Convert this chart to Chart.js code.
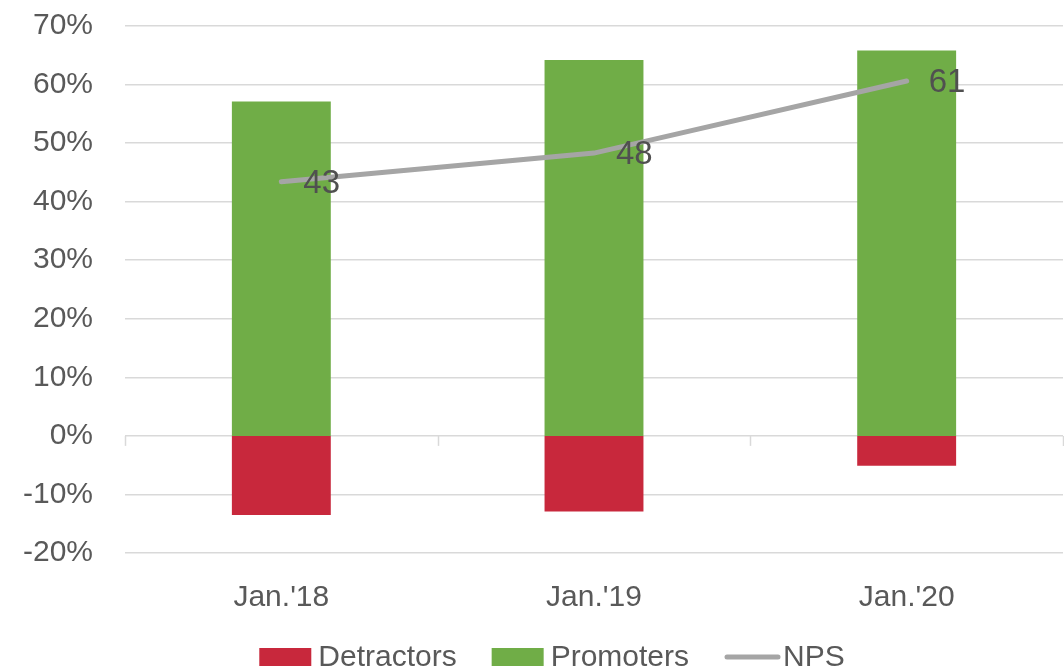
<!DOCTYPE html>
<html>
<head>
<meta charset="utf-8">
<script src="https://cdn.jsdelivr.net/npm/chart.js@4"></script>
<style>
html,body{margin:0;padding:0;background:#fff;}
#wrap{width:1064px;height:672px;position:relative;}
</style>
</head>
<body>
<div id="wrap"><canvas id="c" width="1064" height="672"></canvas></div>
<script>
// ---- data ----
const categories = ["Jan.'18", "Jan.'19", "Jan.'20"];
const detractors = [-0.135, -0.129, -0.051];
const promoters = [0.571, 0.642, 0.658];
const nps = [0.434, 0.483, 0.606];
const npsLabels = ["43", "48", "61"];
const yTickMin = -0.2, yTickMax = 0.7, yTickStep = 0.1;

const FONT = "'Liberation Sans', Arial, sans-serif";
const TEXT = '#595959';
const RED = '#C8283C', GREEN = '#70AD47', GREY = '#A5A5A5', GRID = '#D9D9D9';

const npsLabelPlugin = {
  id: 'npsLabels',
  afterDatasetsDraw(chart) {
    const ctx = chart.ctx;
    const idx = chart.data.datasets.findIndex(d => d.type === 'line');
    const meta = chart.getDatasetMeta(idx);
    ctx.save();
    ctx.font = '33px ' + FONT;
    ctx.fillStyle = '#505050';
    ctx.textAlign = 'left';
    ctx.textBaseline = 'middle';
    meta.data.forEach((pt, i) => {
      ctx.fillText(npsLabels[i], pt.x + 22, pt.y + 2);
    });
    ctx.restore();
  }
};

const zeroTicksPlugin = {
  id: 'zeroTicks',
  beforeDatasetsDraw(chart) {
    const ctx = chart.ctx, x = chart.scales.x, y = chart.scales.y;
    const y0 = y.getPixelForValue(0);
    const n = categories.length;
    ctx.save();
    ctx.strokeStyle = GRID;
    ctx.lineWidth = 1.5;
    for (let i = 0; i <= n; i++) {
      const px = Math.round(x.left + (x.right - x.left) * i / n) + 0.5;
      ctx.beginPath();
      ctx.moveTo(px, y0);
      ctx.lineTo(px, y0 + 10);
      ctx.stroke();
    }
    ctx.restore();
  }
};

const legendPlugin = {
  id: 'customLegend',
  afterDraw(chart) {
    const ctx = chart.ctx;
    ctx.save();
    ctx.font = '30px ' + FONT;
    ctx.textBaseline = 'middle';
    ctx.textAlign = 'left';
    const cy = 657;
    const items = [
      {label: chart.data.datasets[0].label, color: chart.data.datasets[0].backgroundColor, kind: 'box'},
      {label: chart.data.datasets[1].label, color: chart.data.datasets[1].backgroundColor, kind: 'box'},
      {label: chart.data.datasets[2].label, color: chart.data.datasets[2].borderColor, kind: 'line'}
    ];
    const boxW = 52, gap = 7, itemGap = 35;
    let total = 0;
    items.forEach((it, i) => { total += boxW + gap + ctx.measureText(it.label).width + (i < items.length - 1 ? itemGap : 0); });
    let x = 552 - total / 2;
    items.forEach(it => {
      if (it.kind === 'box') {
        ctx.fillStyle = it.color;
        ctx.fillRect(x, cy - 9, boxW, 18);
      } else {
        ctx.strokeStyle = it.color;
        ctx.lineWidth = 5;
        ctx.lineCap = 'round';
        ctx.beginPath();
        ctx.moveTo(x + 3, cy);
        ctx.lineTo(x + boxW + 2, cy);
        ctx.stroke();
      }
      ctx.fillStyle = TEXT;
      ctx.fillText(it.label, x + boxW + gap, cy + 1);
      x += boxW + gap + ctx.measureText(it.label).width + itemGap;
    });
    ctx.restore();
  }
};

new Chart(document.getElementById('c'), {
  data: {
    labels: categories,
    datasets: [
      {type: 'bar', label: 'Detractors', data: detractors, backgroundColor: RED, stack: 'bars', order: 1,
       barPercentage: 0.95, categoryPercentage: 0.333},
      {type: 'bar', label: 'Promoters', data: promoters, backgroundColor: GREEN, stack: 'bars', order: 1,
       barPercentage: 0.95, categoryPercentage: 0.333},
      {type: 'line', label: 'NPS', data: nps, borderColor: GREY, backgroundColor: GREY, borderWidth: 5,
       pointRadius: 0, pointHoverRadius: 0, stack: 'nps', order: 0, borderCapStyle: 'round', tension: 0}
    ]
  },
  options: {
    responsive: false,
    animation: false,
    devicePixelRatio: 1,
    layout: {padding: {top: 26, right: 1, bottom: 49, left: 0}},
    plugins: {legend: {display: false}, tooltip: {enabled: false}},
    scales: {
      x: {
        stacked: true,
        grid: {display: false, drawTicks: false},
        border: {display: false},
        ticks: {color: TEXT, font: {family: FONT, size: 30}, padding: 27},
        afterFit(s) { s.height = 70; s.paddingLeft = 0; s.paddingRight = 0; }
      },
      y: {
        stacked: true,
        min: yTickMin, max: yTickMax,
        grid: {color: GRID, lineWidth: 1.5, drawTicks: false},
        border: {display: false},
        ticks: {stepSize: yTickStep, color: TEXT, font: {family: FONT, size: 30}, padding: 32,
          callback: v => Math.round(v * 100) + '%'},
        afterFit(s) { s.width = 125; s.paddingTop = 0; s.paddingBottom = 0; }
      }
    }
  },
  plugins: [npsLabelPlugin, zeroTicksPlugin, legendPlugin]
});
</script>
</body>
</html>
